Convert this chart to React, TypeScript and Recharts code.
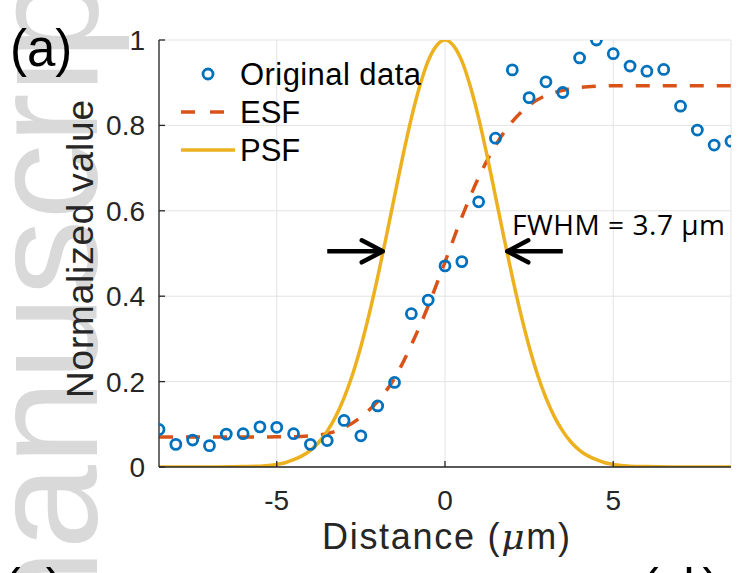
import React from 'react'
import {
  ComposedChart,
  Line,
  Scatter,
  XAxis,
  YAxis,
  CartesianGrid,
  Legend,
  ReferenceLine,
} from 'recharts'

// measured profile across the edge
const distance = [
  -8.5, -8, -7.5, -7, -6.5, -6, -5.5, -5, -4.5, -4, -3.5, -3, -2.5, -2, -1.5, -1,
  -0.5, 0, 0.5, 1, 1.5, 2, 2.5, 3, 3.5, 4, 4.5, 5, 5.5, 6, 6.5, 7, 7.5, 8, 8.5,
]
const originalValue = [
  0.088, 0.053, 0.063, 0.05, 0.077, 0.078, 0.094, 0.093, 0.078, 0.053, 0.062, 0.109,
  0.073, 0.143, 0.198, 0.359, 0.391, 0.471, 0.481, 0.621, 0.77, 0.93, 0.865, 0.902,
  0.877, 0.958, 1.0, 0.968, 0.939, 0.927, 0.931, 0.845, 0.789, 0.754, 0.763,
]

// fitted edge spread function
const esfValue = [
  0.07, 0.07, 0.07, 0.07, 0.07, 0.07, 0.07, 0.071, 0.071, 0.073, 0.078, 0.092,
  0.117, 0.154, 0.208, 0.286, 0.377, 0.48, 0.585, 0.678, 0.753, 0.809, 0.847, 0.87,
  0.882, 0.889, 0.892, 0.893, 0.893, 0.893, 0.893, 0.893, 0.893, 0.893, 0.893,
]

// point spread function
const psfX = [
  -8.5, -7, -6, -5.5, -5, -4.75, -4.5, -4.25, -4, -3.75, -3.5, -3.25, -3, -2.75, -2.5,
  -2.25, -2, -1.75, -1.5, -1.25, -1, -0.75, -0.5, -0.25, 0, 0.25, 0.5, 0.75, 1, 1.25,
  1.5, 1.75, 2, 2.25, 2.5, 2.75, 3, 3.25, 3.5, 3.75, 4, 4.25, 4.5, 4.75, 5, 5.5, 6, 7,
  8.5,
]
const psfValue = [
  0, 0, 0.001, 0.002, 0.006, 0.01, 0.017, 0.026, 0.039, 0.058, 0.084, 0.118, 0.162,
  0.216, 0.282, 0.359, 0.445, 0.538, 0.634, 0.729, 0.817, 0.892, 0.951, 0.987, 1,
  0.987, 0.951, 0.892, 0.817, 0.729, 0.634, 0.538, 0.445, 0.359, 0.282, 0.216, 0.162,
  0.118, 0.084, 0.058, 0.039, 0.026, 0.017, 0.01, 0.006, 0.002, 0.001, 0, 0,
]

const xTicks = [-5, 0, 5]
const yTicks = [0, 0.2, 0.4, 0.6, 0.8, 1]
const xDomain = [-8.5, 8.5]
const yDomain = [0, 1]

// FWHM arrows: [from, to] at half maximum
const halfMax = 0.505
const leftArrow = [-3.5, -1.85]
const rightArrow = [3.5, 1.85]

const BLUE = '#0072BD'
const ORANGE = '#D95319'
const YELLOW = '#EDB120'
const AXIS = '#262626'
const FONT = '"Liberation Sans", Arial, Helvetica, sans-serif'

const originalData = distance.map((x, i) => ({ x, y: originalValue[i] }))
const esfData = distance.map((x, i) => ({ x, y: esfValue[i] }))
const psfData = psfX.map((x, i) => ({ x, y: psfValue[i] }))

const legendItems = [
  { name: 'Original data', kind: 'marker', color: BLUE },
  { name: 'ESF', kind: 'dash', color: ORANGE },
  { name: 'PSF', kind: 'line', color: YELLOW },
]

const Ring = (props: any) => {
  const { cx, cy } = props
  if (cx == null || cy == null) return null
  return <circle cx={cx} cy={cy} r={5} fill='none' stroke={BLUE} strokeWidth={2.8} />
}

const Arrow = (props: any) => {
  const { x1, y1, x2, y2 } = props
  const dir = x2 > x1 ? 1 : -1
  return (
    <g>
      <line x1={x1} y1={y1} x2={x2 - dir * 2} y2={y2} stroke='#000' strokeWidth={4.5} />
      <polyline
        points={`${x2 - dir * 21},${y2 - 11} ${x2},${y2} ${x2 - dir * 21},${y2 + 11}`}
        fill='none'
        stroke='#000'
        strokeWidth={4.5}
        strokeLinecap='round'
        strokeLinejoin='round'
      />
    </g>
  )
}

const LegendBox = () => (
  <svg width={270} height={120} style={{ overflow: 'visible' }}>
    {legendItems.map((item, i) => {
      const cy = 22 + i * 38
      return (
        <g key={item.name}>
          {item.kind === 'marker' && (
            <circle cx={38} cy={cy} r={5} fill='none' stroke={item.color} strokeWidth={2.8} />
          )}
          {item.kind === 'dash' && (
            <line x1={11} y1={cy} x2={65} y2={cy} stroke={item.color} strokeWidth={3.5} strokeDasharray='14 15' />
          )}
          {item.kind === 'line' && (
            <line x1={11} y1={cy} x2={65} y2={cy} stroke={item.color} strokeWidth={3.5} />
          )}
          <text x={70} y={cy + 11} fontSize={31} fontFamily={FONT} fill='#000' textLength={item.name === 'Original data' ? 181 : undefined}>
            {item.name}
          </text>
        </g>
      )
    })}
  </svg>
)

export default function App() {
  return (
    <div
      style={{
        position: 'absolute',
        left: 0,
        top: 0,
        width: 741,
        height: 573,
        background: '#fff',
        overflow: 'hidden',
        fontFamily: FONT,
      }}
    >
      <svg width={741} height={573} style={{ position: 'absolute', left: 0, top: 0 }}>
        <text
          transform='translate(97,676) rotate(-90)'
          fontSize={152}
          fontFamily={FONT}
          fill='#d9d9d9'
        >
          manuscript
        </text>
      </svg>
      <div style={{ position: 'absolute', left: 0, top: 0 }}>
        <ComposedChart
          width={741}
          height={573}
          margin={{ top: 40, right: 10, bottom: 0, left: 0 }}
        >
          <CartesianGrid stroke='#e3e3e3' strokeWidth={1} />
          <XAxis
            dataKey='x'
            type='number'
            domain={xDomain}
            ticks={xTicks}
            allowDataOverflow
            height={106}
            stroke={AXIS}
            strokeWidth={1.3}
            axisLine={{ stroke: AXIS, strokeWidth: 1.3 }}
            tickSize={-6}
            tickMargin={29}
            tick={{ fontSize: 28, fill: AXIS, fontFamily: FONT }}
          />
          <XAxis
            xAxisId='top'
            orientation='top'
            type='number'
            domain={xDomain}
            ticks={xTicks}
            allowDataOverflow
            height={0}
            stroke={AXIS}
            strokeWidth={1.3}
            axisLine={{ stroke: AXIS, strokeWidth: 1.3 }}
            tickSize={-6}
            tick={false}
          />
          <YAxis
            type='number'
            domain={yDomain}
            ticks={yTicks}
            allowDataOverflow
            width={159}
            stroke={AXIS}
            strokeWidth={1.3}
            axisLine={{ stroke: AXIS, strokeWidth: 1.3 }}
            tickSize={-6}
            tickMargin={20}
            tick={{ fontSize: 28, fill: AXIS, fontFamily: FONT }}
          />
          <YAxis
            yAxisId='right'
            orientation='right'
            type='number'
            domain={yDomain}
            ticks={yTicks}
            allowDataOverflow
            width={0}
            stroke={AXIS}
            strokeWidth={1.3}
            axisLine={{ stroke: AXIS, strokeWidth: 1.3 }}
            tickSize={-6}
            tick={false}
          />
          <Legend
            layout='horizontal'
            align='center'
            verticalAlign='middle'
            wrapperStyle={{ left: 170, top: 52, width: 270, height: 120 }}
            content={() => <LegendBox />}
          />
          <Scatter
            name='Original data'
            data={originalData}
            dataKey='y'
            shape={<Ring />}
            isAnimationActive={false}
          />
          <Line
            name='ESF'
            data={esfData}
            dataKey='y'
            type='monotone'
            stroke={ORANGE}
            strokeWidth={3.5}
            strokeDasharray='14 13'
            dot={false}
            activeDot={false}
            isAnimationActive={false}
          />
          <Line
            name='PSF'
            data={psfData}
            dataKey='y'
            type='monotone'
            stroke={YELLOW}
            strokeWidth={3.5}
            dot={false}
            activeDot={false}
            isAnimationActive={false}
          />
          <ReferenceLine
            segment={[
              { x: leftArrow[0], y: halfMax },
              { x: leftArrow[1], y: halfMax },
            ]}
            shape={(p: any) => <Arrow {...p} />}
          />
          <ReferenceLine
            segment={[
              { x: rightArrow[0], y: halfMax },
              { x: rightArrow[1], y: halfMax },
            ]}
            shape={(p: any) => <Arrow {...p} />}
          />
        </ComposedChart>
      </div>
      <svg
        width={741}
        height={573}
        style={{ position: 'absolute', left: 0, top: 0, pointerEvents: 'none' }}
      >
        <text x={10} y={66} fontSize={51} fontFamily={FONT} fill='#000'>
          (a)
        </text>
        <text x={4} y={603} fontSize={50} fontFamily={FONT} fill='#000'>
          (c)
        </text>
        <text x={642} y={603} fontSize={50} fontFamily={FONT} fill='#000' letterSpacing={8}>
          (d)
        </text>
        <text
          x={512}
          y={235}
          fontSize={28}
          fontFamily='"Open Sans", "Noto Sans", sans-serif'
          fill='#000'
          textLength={213}
        >
          FWHM = 3.7 μm
        </text>
        <text
          x={446}
          y={549}
          fontSize={36}
          fontFamily={FONT}
          fill={AXIS}
          textAnchor='middle'
          textLength={248}
        >
          Distance (<tspan fontStyle='italic' fontFamily='"DejaVu Serif", serif'>μ</tspan>m)
        </text>
        <text
          transform='translate(93,249) rotate(-90)'
          fontSize={37}
          fontFamily={FONT}
          fill={AXIS}
          textAnchor='middle'
          textLength={298}
        >
          Normalized value
        </text>
      </svg>
    </div>
  )
}
